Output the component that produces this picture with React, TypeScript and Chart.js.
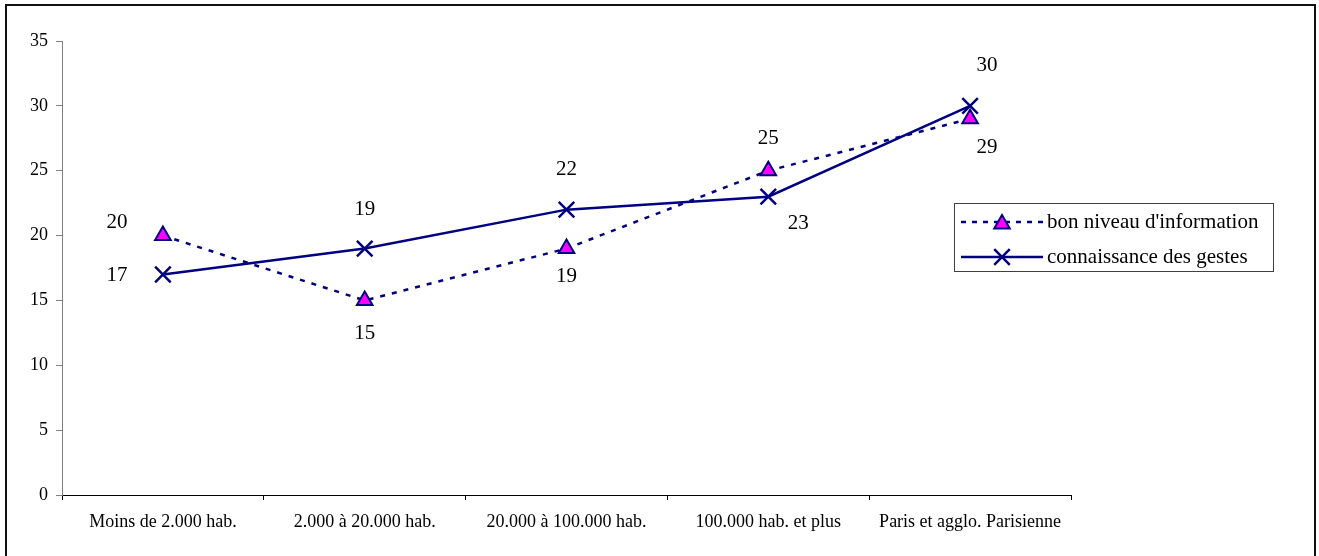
import React, { useEffect, useRef } from 'react';
import { Chart, registerables } from 'chart.js';

Chart.register(...registerables);

const categories = [
  'Moins de 2.000 hab.',
  '2.000 à 20.000 hab.',
  '20.000 à 100.000 hab.',
  '100.000 hab. et plus',
  'Paris et agglo. Parisienne',
];
const infoValues = [20, 15, 19, 25, 29];
const gestesValues = [17, 19, 22, 23, 30];
const seriesNames = ["bon niveau d'information", 'connaissance des gestes'];
const yMin = 0;
const yMax = 35;
const yStep = 5;

const FONT = "'Liberation Serif', 'Times New Roman', serif";
const NAVY = '#000080';
const MAGENTA = '#FF00FF';

// label placement offsets (style only), per dataset, per point
const labelOffsets = [
  [[-46, -13], [0, 33], [0, 28], [0, -32], [17, 29]],
  [[-46, 1], [0, -39], [0, -40], [30, 27], [17, -40]],
];

function drawTriangle(ctx: CanvasRenderingContext2D, x: number, y: number, r: number) {
  ctx.beginPath();
  for (let i = 0; i < 3; i++) {
    const a = (i * 2 * Math.PI) / 3;
    const px = x + Math.sin(a) * r;
    const py = y - Math.cos(a) * r;
    if (i === 0) ctx.moveTo(px, py);
    else ctx.lineTo(px, py);
  }
  ctx.closePath();
  ctx.fillStyle = MAGENTA;
  ctx.fill();
  ctx.strokeStyle = NAVY;
  ctx.lineWidth = 2;
  ctx.setLineDash([]);
  ctx.stroke();
}

function drawCross(ctx: CanvasRenderingContext2D, x: number, y: number, r: number) {
  const d = r * Math.SQRT1_2;
  ctx.beginPath();
  ctx.moveTo(x - d, y - d);
  ctx.lineTo(x + d, y + d);
  ctx.moveTo(x + d, y - d);
  ctx.lineTo(x - d, y + d);
  ctx.strokeStyle = NAVY;
  ctx.lineWidth = 2.5;
  ctx.setLineDash([]);
  ctx.stroke();
}

const decorPlugin = {
  id: 'decor',
  afterDraw(chart: any) {
    const ctx: CanvasRenderingContext2D = chart.ctx;
    ctx.save();
    // outer frame (bottom edge lies outside the picture)
    ctx.strokeStyle = '#111';
    ctx.lineWidth = 2;
    ctx.setLineDash([]);
    ctx.beginPath();
    ctx.moveTo(6, 560);
    ctx.lineTo(6, 5);
    ctx.lineTo(1315, 5);
    ctx.lineTo(1315, 560);
    ctx.stroke();

    // data labels
    ctx.font = `21px ${FONT}`;
    ctx.fillStyle = '#000';
    ctx.textAlign = 'center';
    ctx.textBaseline = 'middle';
    chart.data.datasets.forEach((ds: any, di: number) => {
      const meta = chart.getDatasetMeta(di);
      meta.data.forEach((pt: any, i: number) => {
        const off = labelOffsets[di][i];
        ctx.fillText(String(ds.data[i]), pt.x + off[0], pt.y + off[1]);
      });
    });

    // legend
    const bx = 954.5, by = 203.5, bw = 319, bh = 68;
    ctx.strokeStyle = '#404040';
    ctx.lineWidth = 1;
    ctx.strokeRect(bx, by, bw, bh);
    const rows = [222, 257];
    // row 1 dashed + triangle
    ctx.strokeStyle = NAVY;
    ctx.lineWidth = 2.5;
    ctx.setLineDash([5, 6]);
    ctx.beginPath();
    ctx.moveTo(961, rows[0]);
    ctx.lineTo(1043, rows[0]);
    ctx.stroke();
    drawTriangle(ctx, 1002, rows[0] + 2, 9);
    // row 2 solid + cross
    ctx.strokeStyle = NAVY;
    ctx.lineWidth = 2.5;
    ctx.setLineDash([]);
    ctx.beginPath();
    ctx.moveTo(961, rows[1]);
    ctx.lineTo(1043, rows[1]);
    ctx.stroke();
    drawCross(ctx, 1002, rows[1], 11);

    ctx.fillStyle = '#000';
    ctx.font = `21px ${FONT}`;
    ctx.textAlign = 'left';
    ctx.textBaseline = 'middle';
    ctx.fillText(seriesNames[0], 1047, rows[0]);
    ctx.fillText(seriesNames[1], 1047, rows[1]);
    ctx.restore();
  },
};

export default function App() {
  const ref = useRef<HTMLCanvasElement | null>(null);
  useEffect(() => {
    document.body.style.margin = '0';
    const canvas = ref.current!;
    const chart = new Chart(canvas, {
      type: 'line',
      data: {
        labels: categories,
        datasets: [
          {
            label: seriesNames[0],
            data: infoValues,
            borderColor: NAVY,
            borderWidth: 2.5,
            borderDash: [5, 7],
            pointStyle: 'triangle',
            pointRadius: 9,
            pointBackgroundColor: MAGENTA,
            pointBorderColor: NAVY,
            pointBorderWidth: 2,
            tension: 0,
            fill: false,
          },
          {
            label: seriesNames[1],
            data: gestesValues,
            borderColor: NAVY,
            borderWidth: 2.5,
            pointStyle: 'crossRot',
            pointRadius: 11,
            pointBorderColor: NAVY,
            pointBorderWidth: 2.5,
            tension: 0,
            fill: false,
          },
        ],
      },
      options: {
        animation: false,
        responsive: false,
        devicePixelRatio: 1,
        layout: { padding: { top: 41, right: 248, left: 0, bottom: 0 } },
        plugins: { legend: { display: false }, tooltip: { enabled: false } },
        scales: {
          x: {
            type: 'category',
            offset: true,
            grid: {
              display: true,
              drawOnChartArea: false,
              drawTicks: true,
              tickLength: 5,
              color: '#000',
              offset: true,
            },
            border: { display: true, color: '#000', width: 1 },
            ticks: {
              font: { family: FONT, size: 18 },
              color: '#000',
              padding: 11,
              maxRotation: 0,
              autoSkip: false,
            },
            afterFit: (s: any) => {
              s.height = 61;
            },
          },
          y: {
            min: yMin,
            max: yMax,
            ticks: {
              stepSize: yStep,
              font: { family: FONT, size: 18 },
              color: '#000',
              padding: 8,
            },
            grid: {
              display: true,
              drawOnChartArea: false,
              drawTicks: true,
              tickLength: 6,
              color: '#808080',
            },
            border: { display: true, color: '#808080', width: 1 },
            afterFit: (s: any) => {
              s.width = 62;
            },
          },
        },
      },
      plugins: [decorPlugin],
    });
    return () => chart.destroy();
  }, []);
  return (
    <div style={{ position: 'absolute', left: 0, top: 0, width: 1319, height: 556, background: '#fff' }}>
      <canvas ref={ref} width={1319} height={556} />
    </div>
  );
}
